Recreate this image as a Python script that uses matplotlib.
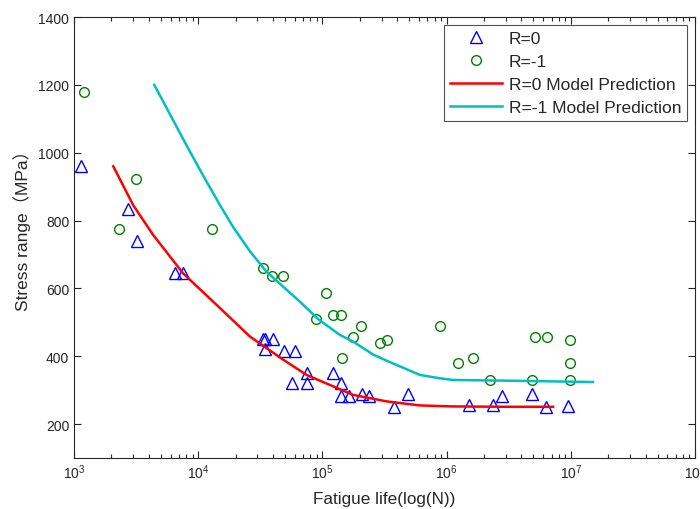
import matplotlib
matplotlib.use("Agg")
import matplotlib.pyplot as plt
import numpy as np
from matplotlib.ticker import LogLocator, NullFormatter, FixedLocator

plt.rcParams['font.family'] = ['Liberation Sans', 'Noto Sans CJK SC', 'DejaVu Sans']
plt.rcParams['mathtext.fontset'] = 'custom'
plt.rcParams['mathtext.rm'] = 'Liberation Sans'
plt.rcParams['mathtext.it'] = 'Liberation Sans'

# R=0 test data
r0_life = [1140, 2730, 3210, 6450, 7480, 33000, 34800, 40100, 34800, 49200, 60300,
           56400, 75000, 75000, 122000, 140000, 140000, 165000, 210000, 238000,
           378000, 489000, 1510000, 2360000, 2790000, 4870000, 6260000, 9500000]
r0_stress = [960, 835, 740, 645, 645, 450, 450, 450, 422, 415, 415,
             322, 350, 322, 350, 320, 283, 283, 290, 283,
             250, 290, 255, 255, 283, 290, 250, 252]

# R=-1 test data
r1_life = [1210, 2300, 3150, 12900, 33400, 39600, 48600, 89500, 106000, 122000,
           140000, 144000, 175000, 206000, 290000, 334000, 879000, 1240000,
           1630000, 2250000, 4870000, 5110000, 6430000, 9900000, 9900000, 9900000]
r1_stress = [1178, 775, 922, 775, 660, 637, 637, 510, 585, 523,
             523, 396, 456, 490, 438, 448, 490, 380,
             395, 330, 330, 456, 456, 448, 380, 330]

# Model predictions
m0_life = [2070, 3000, 4350, 7570, 14100, 26100, 48300, 74500, 95300, 138000,
           177000, 328000, 608000, 1130000, 3000000, 7200000]
m0_stress = [960, 845, 757, 644, 551, 458, 390, 345, 328, 303,
             286, 267, 255, 252, 251, 251]

m1_life = [4430, 8320, 11300, 15000, 19100, 26000, 35500, 65800, 92000, 138000, 177000,
           256000, 328000, 474000, 608000, 879000, 1130000, 3000000, 15100000]
m1_stress = [1200, 1012, 924, 845, 781, 710, 649, 561, 510, 463, 443,
             405, 387, 362, 345, 335, 330, 328, 324]

fig = plt.figure(figsize=(7.0, 5.1), dpi=100)
ax = fig.add_axes([74/700, 1 - 459/510, (695 - 74)/700, (459 - 18)/510])

ax.plot(r0_life, r0_stress, linestyle='none', marker='^', markersize=8,
        markerfacecolor='none', markeredgecolor='#0000FF', markeredgewidth=1.0, label='R=0')
ax.plot(r1_life, r1_stress, linestyle='none', marker='o', markersize=7,
        markerfacecolor='none', markeredgecolor='#008000', markeredgewidth=1.0, label='R=-1')
ax.plot(m0_life, m0_stress, color='#FF0000', linewidth=1.8, label='R=0 Model Prediction')
ax.plot(m1_life, m1_stress, color='#00BFBF', linewidth=1.8, label='R=-1 Model Prediction')

ax.set_xscale('log')
ax.set_xlim(1e3, 1e8)
ax.set_ylim(100, 1400)
ax.yaxis.set_major_locator(FixedLocator([200, 400, 600, 800, 1000, 1200, 1400]))
ax.xaxis.set_major_locator(LogLocator(base=10, numticks=10))
ax.xaxis.set_minor_locator(LogLocator(base=10, subs=np.arange(2, 10), numticks=20))
ax.xaxis.set_minor_formatter(NullFormatter())

ax.tick_params(which='both', direction='in', top=True, right=True, labelsize=10, colors='#262626')
ax.tick_params(which='major', length=5, width=0.8)
ax.tick_params(which='minor', length=3, width=0.8)
for s in ax.spines.values():
    s.set_color('#262626')
    s.set_linewidth(0.8)

ax.set_xlabel('Fatigue life(log(N))', fontsize=12.3, color='#262626', labelpad=7)
ax.set_ylabel('Stress range（MPa）', fontsize=12.5, color='#262626')
ax.yaxis.set_label_coords(-0.069, 0.528)

leg = ax.legend(loc='upper right', fontsize=12.5, frameon=True, fancybox=False,
                handlelength=3.0, labelspacing=0.45, borderaxespad=0.45, borderpad=0.35,
                handletextpad=0.4)
leg.get_frame().set_edgecolor('#262626')
leg.get_frame().set_linewidth(0.8)
for t in leg.get_texts():
    t.set_color('#262626')

fig.savefig('out.png', dpi=100)
